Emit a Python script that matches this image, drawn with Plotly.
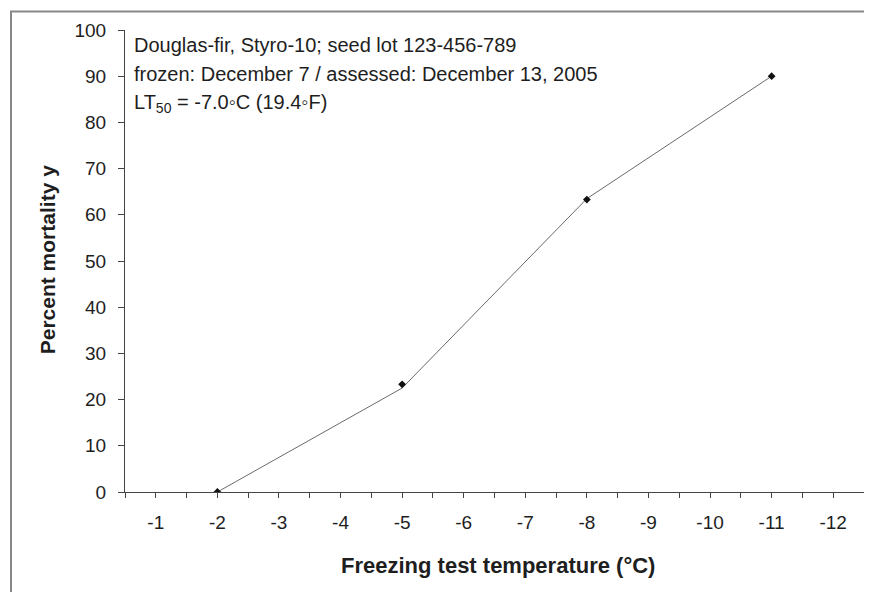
import plotly.graph_objects as go

# Data
temps = [-2, -5, -8, -11]
mortality_observed = [0, 23.3, 63.3, 90]
mortality_fitted = [0, 22.5, 63.5, 90]
x_tick_values = [-1, -2, -3, -4, -5, -6, -7, -8, -9, -10, -11, -12]
x_tick_labels = ["-1", "-2", "-3", "-4", "-5", "-6", "-7", "-8", "-9", "-10", "-11", "-12"]
y_tick_values = [0, 10, 20, 30, 40, 50, 60, 70, 80, 90, 100]
info_lines = [
    "Douglas-fir, Styro-10; seed lot 123-456-789",
    "frozen: December 7 / assessed: December 13, 2005",
    "LT<sub>50</sub> = -7.0\u25e6C (19.4\u25e6F)",
]

FONT = "Liberation Sans, Arial, sans-serif"
TXT = "#1e1e1e"
AX = "#444444"

OFF = 8  # page body margin
W, H = 856, 584
L, R, T, B = 117, 0, 21.5, 100
pw = W - L - R
ph = H - T - B

def px_to_paper_x(px):
    return (px - OFF - L) / pw

def px_to_paper_y(py):
    return (H - B - (py - OFF)) / ph

fig = go.Figure()
fig.add_trace(go.Scatter(
    x=temps, y=mortality_fitted, mode="lines",
    line=dict(color="#6a6a6a", width=1), showlegend=False, hoverinfo="skip"))
fig.add_trace(go.Scatter(
    x=temps, y=mortality_observed, mode="markers",
    marker=dict(symbol="diamond", size=6, color="#111111"), showlegend=False))

for line, py in zip(info_lines, [45, 74, 103]):
    fig.add_annotation(
        text=line, xref="paper", yref="paper",
        x=px_to_paper_x(132), y=px_to_paper_y(py),
        xanchor="left", yanchor="middle", showarrow=False,
        font=dict(family=FONT, size=20, color=TXT))

fig.add_annotation(
    text="<b>Percent mortality y</b>", xref="paper", yref="paper",
    x=px_to_paper_x(47), y=px_to_paper_y(260), textangle=-90,
    xanchor="center", yanchor="middle", showarrow=False,
    font=dict(family=FONT, size=21, color=TXT))
fig.add_annotation(
    text="<b>Freezing test temperature (\u00b0C)</b>", xref="paper", yref="paper",
    x=px_to_paper_x(498), y=px_to_paper_y(566),
    xanchor="center", yanchor="middle", showarrow=False,
    font=dict(family=FONT, size=22, color=TXT))

fig.add_shape(type="rect", xref="paper", yref="paper",
              x0=px_to_paper_x(11), x1=px_to_paper_x(900),
              y0=px_to_paper_y(640), y1=px_to_paper_y(11),
              line=dict(color="#888888", width=2), fillcolor="rgba(0,0,0,0)",
              layer="below")

fig.update_layout(
    width=W, height=H,
    margin=dict(l=L, r=R, t=T, b=B),
    paper_bgcolor="white", plot_bgcolor="white",
    font=dict(family=FONT, size=19, color=TXT),
    xaxis=dict(
        range=[-0.5, -12.5], tickvals=x_tick_values, ticktext=x_tick_labels,
        showgrid=False, zeroline=False, showline=True, linecolor=AX, linewidth=1,
        ticks="outside", ticklen=5, tickcolor=AX, tickwidth=1,
        ticklabelstandoff=8,
        minor=dict(ticks="outside", ticklen=5, tickcolor=AX, dtick=0.5, tick0=-0.5, showgrid=False),
        tickfont=dict(family=FONT, size=19, color=TXT)),
    yaxis=dict(
        range=[0, 100], tickvals=y_tick_values,
        showgrid=False, zeroline=False, showline=True, linecolor=AX, linewidth=1,
        ticks="outside", ticklen=6, tickcolor=AX, tickwidth=1,
        ticklabelstandoff=8,
        tickfont=dict(family=FONT, size=19, color=TXT)),
)

fig.write_html("out.html")
